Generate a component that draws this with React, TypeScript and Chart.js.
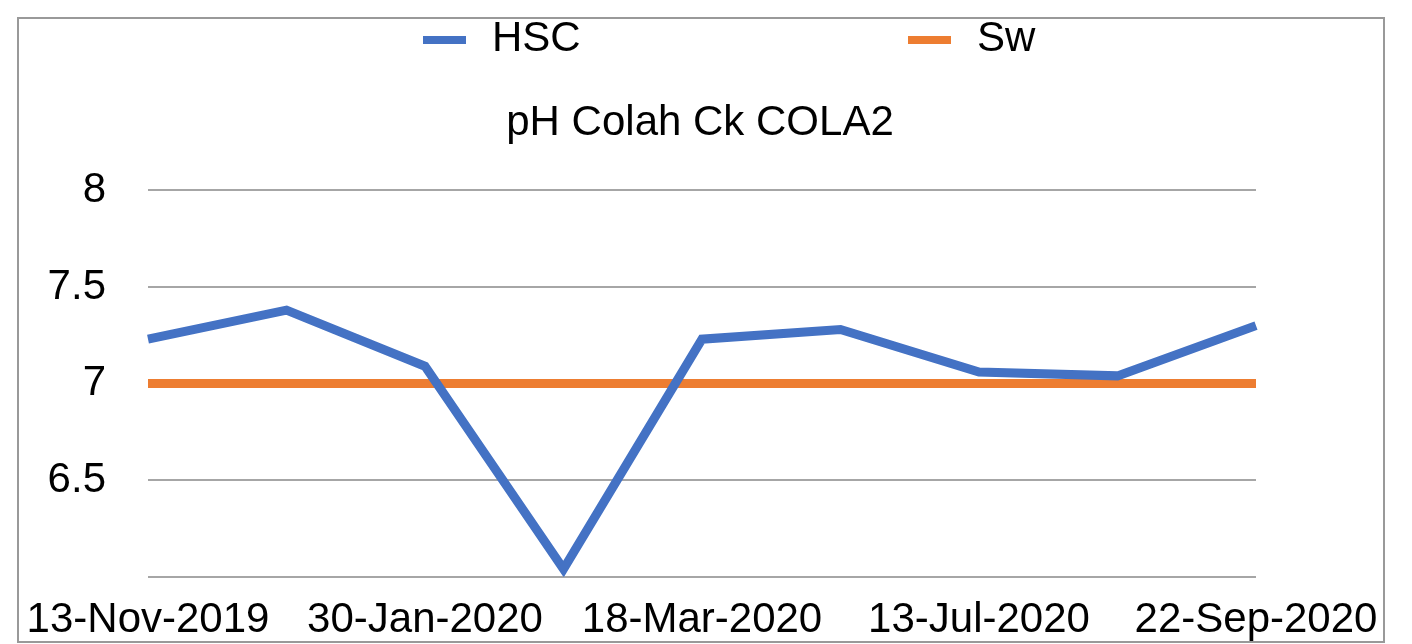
import React, { useEffect, useRef } from "react";
import { Chart, registerables } from "chart.js";

Chart.register(...registerables);

// Data
const categories = [
  "13-Nov-2019",
  "11-Dec-2019",
  "30-Jan-2020",
  "26-Feb-2020",
  "18-Mar-2020",
  "20-May-2020",
  "13-Jul-2020",
  "18-Aug-2020",
  "22-Sep-2020",
];
const hscValues = [7.23, 7.38, 7.09, 6.04, 7.23, 7.28, 7.06, 7.04, 7.3];
const swValues = [7, 7, 7, 7, 7, 7, 7, 7, 7];
const seriesNames = ["HSC", "Sw"];
const seriesColors = ["#4472C4", "#ED7D31"];
const chartTitle = "pH Colah Ck COLA2";
const yMin = 6;
const yMax = 8;
const yStep = 0.5;

const FONT = "'Liberation Sans', Arial, Helvetica, sans-serif";

const framePlugin = {
  id: "frame",
  beforeDraw(chart: any) {
    const ctx = chart.ctx;
    ctx.save();
    ctx.fillStyle = "#ffffff";
    ctx.fillRect(0, 0, chart.width, chart.height);
    ctx.strokeStyle = "#999999";
    ctx.lineWidth = 2;
    ctx.strokeRect(18, 18, 1366, 624);
    ctx.restore();
  },
};

const legendPlugin = {
  id: "customLegend",
  afterDraw(chart: any) {
    const ctx = chart.ctx;
    const x0 = 423;
    const pitch = 485;
    const y = 40;
    ctx.save();
    ctx.font = `42px ${FONT}`;
    ctx.textBaseline = "middle";
    ctx.textAlign = "left";
    chart.data.datasets.forEach((ds: any, i: number) => {
      const x = x0 + i * pitch;
      ctx.fillStyle = ds.borderColor;
      ctx.fillRect(x, y - 4, 43, 8);
      ctx.fillStyle = "#000000";
      ctx.fillText(ds.label, x + 69, y - 1);
    });
    ctx.restore();
  },
};

export default function App() {
  const canvasRef = useRef<HTMLCanvasElement | null>(null);

  useEffect(() => {
    const canvas = canvasRef.current;
    if (!canvas) return;
    const chart = new Chart(canvas, {
      type: "line",
      data: {
        labels: categories,
        datasets: [
          {
            label: seriesNames[0],
            data: hscValues,
            borderColor: seriesColors[0],
            backgroundColor: seriesColors[0],
            borderWidth: 9,
            pointRadius: 0,
            tension: 0,
            fill: false,
          },
          {
            label: seriesNames[1],
            data: swValues,
            borderColor: seriesColors[1],
            backgroundColor: seriesColors[1],
            borderWidth: 9,
            pointRadius: 0,
            tension: 0,
            fill: false,
          },
        ],
      },
      options: {
        responsive: false,
        animation: false,
        layout: { padding: { top: 80, left: 0, right: 12, bottom: 0 } },
        plugins: {
          legend: { display: false },
          tooltip: { enabled: false },
          title: {
            display: true,
            text: chartTitle,
            color: "#000000",
            font: { family: FONT, size: 42, weight: "normal" },
            padding: { top: 18, bottom: 42 },
          },
        },
        scales: {
          x: {
            offset: false,
            grid: { display: false, drawTicks: false },
            border: { display: false },
            ticks: {
              autoSkip: false,
              maxRotation: 0,
              minRotation: 0,
              padding: 18,
              color: "#000000",
              font: { family: FONT, size: 42 },
              callback: function (this: any, _v: any, index: number) {
                return index % 2 === 0 ? categories[index] : "";
              },
            },
            afterFit(scale: any) {
              scale.height = 67;
            },
          },
          y: {
            min: yMin,
            max: yMax,
            grid: { color: "#a6a6a6", lineWidth: 2, drawTicks: false },
            border: { display: false },
            ticks: {
              stepSize: yStep,
              padding: 42,
              color: "#000000",
              font: { family: FONT, size: 42 },
              callback: (v: any) => (Number(v) === yMin ? "" : String(v)),
            },
            afterFit(scale: any) {
              scale.width = 148;
            },
          },
          yRight: {
            type: "linear",
            position: "right",
            grid: { display: false, drawTicks: false },
            border: { display: false },
            ticks: { display: false },
            afterFit(scale: any) {
              scale.width = 144;
            },
          },
        },
      },
      plugins: [framePlugin, legendPlugin],
    });
    return () => chart.destroy();
  }, []);

  return (
    <div style={{ position: "absolute", left: 0, top: 0, width: 1412, height: 644 }}>
      <canvas ref={canvasRef} width={1412} height={644} style={{ display: "block" }} />
    </div>
  );
}
